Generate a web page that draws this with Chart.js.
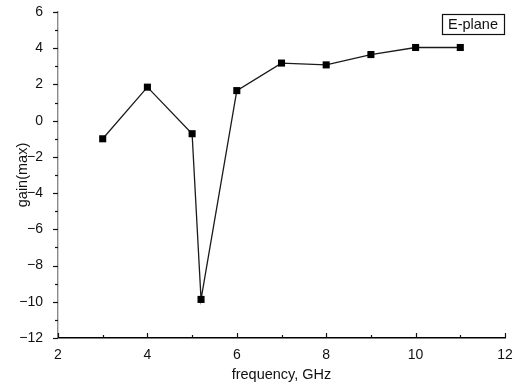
<!DOCTYPE html>
<html>
<head>
<meta charset="utf-8">
<style>
  body { margin: 0; background: #fff; }
  #wrap { width: 526px; height: 385px; }
</style>
</head>
<body>
<div id="wrap"><canvas id="gainChart" width="526" height="385"></canvas></div>

<script src="https://cdn.jsdelivr.net/npm/chart.js"></script>
<script>
// frequency (GHz) and measured max gain, E-plane
const freq = [3, 4, 5, 5.2, 6, 7, 8, 9, 10, 11];
const gain = [-1.0, 1.85, -0.72, -9.87, 1.66, 3.18, 3.08, 3.65, 4.04, 4.04];
const seriesName = 'E-plane';
const xTicks = [2, 4, 6, 8, 10, 12];
const yTicks = [-12, -10, -8, -6, -4, -2, 0, 2, 4, 6];

const FONT = 'Liberation Sans, Arial, Helvetica, sans-serif';

// small tick marks: y outward (left), x inward (up), minor ones shorter
const tickMarks = {
    id: 'tickMarks',
    afterDraw(chart) {
        const ctx = chart.ctx;
        const xs = chart.scales.x, ys = chart.scales.y;
        const a = chart.chartArea;
        ctx.save();
        ctx.lineWidth = 1.2;
        ctx.strokeStyle = '#111';
        for (let v = ys.min; v <= ys.max; v++) {
            const py = Math.round(ys.getPixelForValue(v)) + 0.5;
            const len = (v % 2 === 0) ? 5 : 3;
            ctx.beginPath();
            ctx.moveTo(a.left - len, py);
            ctx.lineTo(a.left, py);
            ctx.stroke();
        }
        for (let v = xs.min; v <= xs.max; v++) {
            const px = Math.round(xs.getPixelForValue(v)) + 0.5;
            const len = (v % 2 === 0) ? 5 : 3;
            ctx.beginPath();
            ctx.moveTo(px, a.bottom);
            ctx.lineTo(px, a.bottom - len);
            ctx.stroke();
        }
        ctx.restore();
    }
};

// boxed legend text in the top right corner
const boxedLegend = {
    id: 'boxedLegend',
    afterDraw(chart) {
        const ctx = chart.ctx;
        const a = chart.chartArea;
        const label = chart.data.datasets[0].label;
        ctx.save();
        ctx.font = '14.5px ' + FONT;
        const w = ctx.measureText(label).width + 12;
        const h = 20;
        const x = a.right - 1 - w;
        const y = a.top + 2;
        ctx.lineWidth = 1.2;
        ctx.strokeStyle = '#111';
        ctx.strokeRect(Math.round(x) + 0.5, Math.round(y) + 0.5, Math.round(w), h);
        ctx.fillStyle = '#111';
        ctx.textBaseline = 'middle';
        ctx.fillText(label, x + 6, y + h / 2 + 1);
        ctx.restore();
    }
};

const points = freq.map((f, i) => ({ x: f, y: gain[i] }));

new Chart(document.getElementById('gainChart'), {
    type: 'line',
    data: {
        datasets: [{
            label: seriesName,
            data: points,
            borderColor: '#1a1a1a',
            borderWidth: 1.3,
            pointStyle: 'rect',
            pointRadius: 5,
            pointBackgroundColor: '#000',
            pointBorderColor: '#000',
            pointBorderWidth: 0,
            fill: false,
            tension: 0
        }]
    },
    options: {
        responsive: false,
        animation: false,
        layout: { padding: { top: 12, right: 21, left: 0, bottom: 0 } },
        plugins: {
            legend: { display: false },
            tooltip: { enabled: false }
        },
        scales: {
            x: {
                type: 'linear',
                min: 2,
                max: 12,
                afterFit: s => { s.height = 47; s.paddingLeft = 0; s.paddingRight = 0; },
                afterBuildTicks: s => { s.ticks = xTicks.map(v => ({ value: v })); },
                grid: { display: false },
                border: { display: true, color: '#000', width: 1.4 },
                ticks: {
                    padding: 1,
                    color: '#111',
                    font: { family: FONT, size: 14 }
                },
                title: {
                    display: true,
                    text: 'frequency, GHz',
                    color: '#111',
                    font: { family: FONT, size: 14.5 },
                    padding: { top: 0, bottom: 1 }
                }
            },
            y: {
                type: 'linear',
                min: -12,
                max: 6,
                afterFit: s => { s.width = 58; s.paddingTop = 0; s.paddingBottom = 0; },
                afterBuildTicks: s => { s.ticks = yTicks.map(v => ({ value: v })); },
                grid: { display: false },
                border: { display: true, color: '#8a8a8a', width: 1.4 },
                ticks: {
                    padding: 7,
                    color: '#111',
                    font: { family: FONT, size: 14 },
                    callback: v => v < 0 ? '\u2212' + Math.abs(v) : String(v)
                },
                title: {
                    display: true,
                    text: 'gain(max)',
                    color: '#111',
                    font: { family: FONT, size: 14.5 },
                    padding: { top: 14, bottom: 0 }
                }
            }
        }
    },
    plugins: [tickMarks, boxedLegend]
});
</script>
</body>
</html>
